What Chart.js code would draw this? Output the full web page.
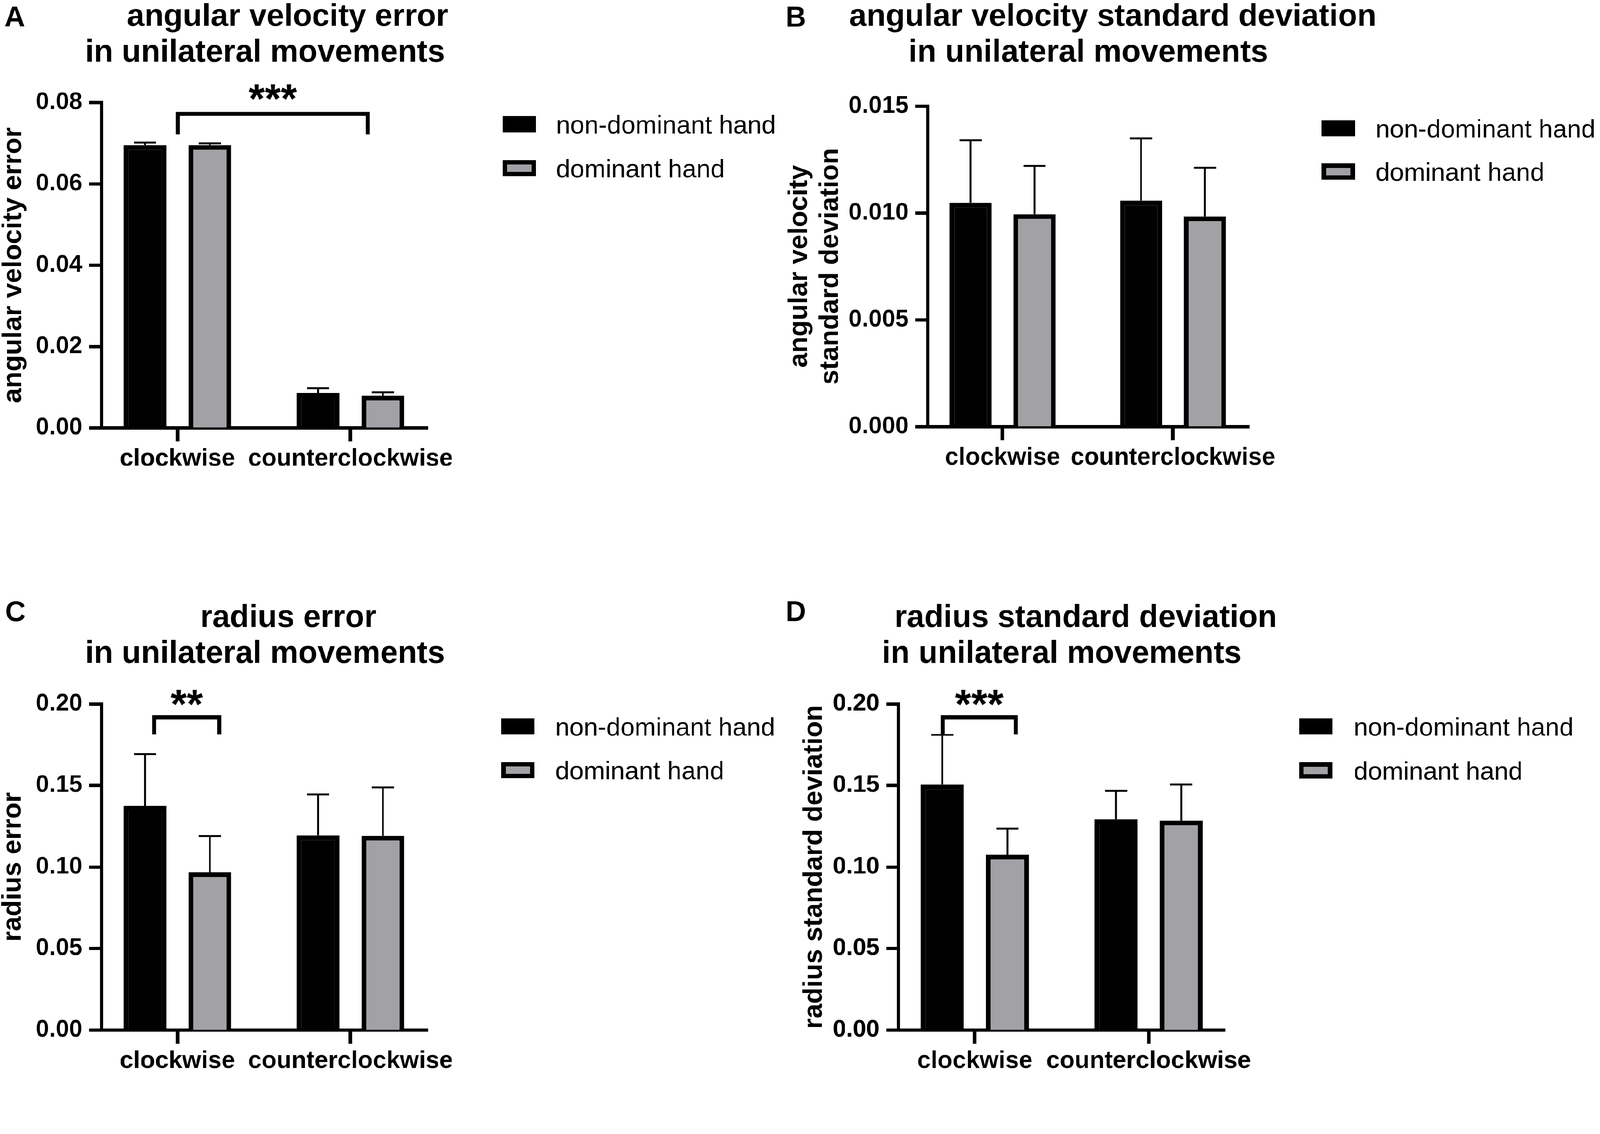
<!DOCTYPE html>
<html>
<head>
<meta charset="utf-8">
<script src="https://cdn.jsdelivr.net/npm/chart.js@4.4.0/dist/chart.umd.min.js"></script>
<style>
  html, body { margin: 0; padding: 0; background: #fff; overflow: hidden; }
  #page { position: absolute; left: 0; top: 0; width: 4328px; height: 2903px; transform-origin: 0 0; }
  canvas { position: absolute; }
</style>
</head>
<body>
<div id="page">
<canvas id="chartA" width="2200" height="1450" style="left:0;top:0"></canvas>
<canvas id="chartB" width="2228" height="1450" style="left:2100px;top:0"></canvas>
<canvas id="chartC" width="2200" height="1453" style="left:0;top:1450px"></canvas>
<canvas id="chartD" width="2228" height="1453" style="left:2100px;top:1450px"></canvas>
</div>
<script>
var categories = ['clockwise', 'counterclockwise'];
var seriesNames = ['non-dominant hand', 'dominant hand'];

// A: angular velocity error
var avErrNonDom = [0.0695, 0.00855];
var avErrNonDomSem = [0.0006, 0.0012];
var avErrDom = [0.0695, 0.0079];
var avErrDomSem = [0.0004, 0.0008];
var avErrTicks = ['0.00', '0.02', '0.04', '0.06', '0.08'];

// B: angular velocity standard deviation
var avSdNonDom = [0.01048, 0.01058];
var avSdNonDomSem = [0.00293, 0.00291];
var avSdDom = [0.00994, 0.00984];
var avSdDomSem = [0.00226, 0.00228];
var avSdTicks = ['0.000', '0.005', '0.010', '0.015'];

// C: radius error
var radErrNonDom = [0.1374, 0.1194];
var radErrNonDomSem = [0.0319, 0.0251];
var radErrDom = [0.0967, 0.1191];
var radErrDomSem = [0.0223, 0.0297];
var radErrTicks = ['0.00', '0.05', '0.10', '0.15', '0.20'];

// D: radius standard deviation
var radSdNonDom = [0.1505, 0.1292];
var radSdNonDomSem = [0.0305, 0.0174];
var radSdDom = [0.1075, 0.1284];
var radSdDomSem = [0.0160, 0.0221];
var radSdTicks = ['0.00', '0.05', '0.10', '0.15', '0.20'];

var FONT = '"Liberation Sans", Arial, Helvetica, sans-serif';
var GREY = '#a2a2a6';

// the layout is in 4328x2903 figure pixels; fit it to the real viewport
var fit = Math.min(window.innerWidth / 4328, window.innerHeight / 2903);
if (Math.abs(fit - 1) > 0.001) {
  document.getElementById('page').style.transform = 'scale(' + fit + ')';
}
var DPR = (window.devicePixelRatio || 1);

Chart.defaults.font.family = FONT;
Chart.defaults.color = '#000';

// whiskers (mean + SEM), upper side only
var errorBars = {
  id: 'errorBars',
  afterDatasetsDraw: function (chart, args, opts) {
    var ctx = chart.ctx;
    var ys = chart.scales.y;
    ctx.save();
    ctx.strokeStyle = '#000';
    ctx.lineWidth = opts.width;
    chart.data.datasets.forEach(function (ds, di) {
      chart.getDatasetMeta(di).data.forEach(function (bar, i) {
        var top = ys.getPixelForValue(ds.data[i].y + ds.sem[i]);
        ctx.beginPath();
        ctx.moveTo(bar.x, bar.y);
        ctx.lineTo(bar.x, top);
        ctx.moveTo(bar.x - opts.cap / 2, top);
        ctx.lineTo(bar.x + opts.cap / 2, top);
        ctx.stroke();
      });
    });
    ctx.restore();
  }
};

// panel letter, two-line title, legend and significance bracket
var decor = {
  id: 'decor',
  afterDraw: function (chart, args, o) {
    var ctx = chart.ctx;
    ctx.save();
    ctx.fillStyle = '#000';
    ctx.textBaseline = 'alphabetic';

    ctx.font = 'bold 77px ' + FONT;
    ctx.textAlign = 'left';
    ctx.fillText(o.letter, o.letterX, o.letterY);

    ctx.font = 'bold 85px ' + FONT;
    ctx.textAlign = 'center';
    o.title.forEach(function (line, i) {
      ctx.fillText(line, o.titleX[i], o.titleY[i]);
    });

    var lg = o.legend;
    ctx.textAlign = 'left';
    ctx.font = '69px ' + FONT;
    chart.data.datasets.forEach(function (ds, i) {
      var y = lg.rows[i];
      ctx.fillStyle = ds.borderColor;
      ctx.fillRect(lg.x, y, lg.w, lg.h);
      ctx.fillStyle = ds.backgroundColor;
      ctx.fillRect(lg.x + lg.border, y + lg.border, lg.w - 2 * lg.border, lg.h - 2 * lg.border);
      ctx.fillStyle = '#000';
      ctx.fillText(ds.label, lg.textX, y + lg.h + 3);
    });

    var b = o.bracket;
    if (b) {
      var xs = chart.scales.x, ys = chart.scales.y;
      var x1 = xs.getPixelForValue(b.from), x2 = xs.getPixelForValue(b.to);
      var yt = ys.getPixelForValue(b.y), yl = ys.getPixelForValue(b.legTo);
      ctx.strokeStyle = '#000';
      ctx.lineWidth = 11;
      ctx.lineJoin = 'miter';
      ctx.beginPath();
      ctx.moveTo(x1, yl);
      ctx.lineTo(x1, yt);
      ctx.lineTo(x2, yt);
      ctx.lineTo(x2, yl);
      ctx.stroke();
      ctx.font = 'bold 112px ' + FONT;
      ctx.textAlign = 'center';
      ctx.textBaseline = 'middle';
      ctx.fillText(b.label, (x1 + x2) / 2, yt - b.gap);
    }
    ctx.restore();
  }
};

function makePanel(id, p) {
  var canvas = document.getElementById(id);
  var W = canvas.width, H = canvas.height;
  var barStyle = { borderColor: '#000', borderWidth: 13, categoryPercentage: 0.75, barPercentage: 0.66 };
  return new Chart(canvas, {
    type: 'bar',
    data: {
      datasets: [
        Object.assign({
          label: seriesNames[0],
          data: p.nonDom.map(function (v, i) { return { x: i, y: v }; }),
          sem: p.nonDomSem,
          backgroundColor: '#000'
        }, barStyle),
        Object.assign({
          label: seriesNames[1],
          data: p.dom.map(function (v, i) { return { x: i, y: v }; }),
          sem: p.domSem,
          backgroundColor: GREY
        }, barStyle)
      ]
    },
    options: {
      responsive: false,
      animation: false,
      devicePixelRatio: DPR,
      layout: { padding: { left: 0, top: p.area.top, right: W - p.area.right, bottom: 0 } },
      plugins: {
        legend: { display: false },
        tooltip: { enabled: false },
        errorBars: { width: 5, cap: 60 },
        decor: p.decor
      },
      scales: {
        x: {
          type: 'linear',
          min: p.xMin,
          max: p.xMax,
          offset: false,
          afterBuildTicks: function (axis) {
            axis.ticks = categories.map(function (c, i) { return { value: i }; });
          },
          afterFit: function (s) {
            s.height = H - p.area.bottom;
            s.paddingLeft = 0;
            s.paddingRight = 0;
          },
          grid: { offset: false, drawOnChartArea: false, drawTicks: true, tickLength: 37, tickWidth: 10, tickColor: '#000' },
          border: { display: true, width: 9, color: '#000' },
          ticks: {
            autoSkip: false, maxRotation: 0, minRotation: 0, padding: 15, color: '#000',
            font: { size: 66, weight: 'bold', lineHeight: 1 },
            callback: function (v) { return categories[v]; }
          }
        },
        y: {
          min: 0,
          max: parseFloat(p.ticks[p.ticks.length - 1]),
          afterBuildTicks: function (axis) {
            axis.ticks = p.ticks.map(function (t) { return { value: parseFloat(t) }; });
          },
          afterFit: function (s) {
            s.width = p.area.left;
            s.paddingTop = 0;
            s.paddingBottom = 0;
          },
          grid: { drawOnChartArea: false, drawTicks: true, tickLength: 33, tickWidth: 9, tickColor: '#000' },
          border: { display: true, width: 9, color: '#000' },
          ticks: {
            padding: 18, color: '#000',
            font: { size: 65, weight: 'bold', lineHeight: 1 },
            callback: function (v, i) { return p.ticks[i]; }
          },
          title: {
            display: true, text: p.yTitle, color: '#000',
            font: { size: p.yTitleSize, weight: 'bold', lineHeight: p.yTitleLh },
            padding: { top: p.yTitlePad, bottom: 0 }
          }
        }
      }
    },
    plugins: [errorBars, decor]
  });
}

makePanel('chartA', {
  nonDom: avErrNonDom, nonDomSem: avErrNonDomSem, dom: avErrDom, domSem: avErrDomSem,
  ticks: avErrTicks,
  yTitle: 'angular velocity error', yTitleSize: 73, yTitleLh: 1, yTitlePad: 0,
  area: { left: 274, right: 1157, top: 277, bottom: 1157 },
  xMin: -0.4402, xMax: 1.4466,
  decor: {
    letter: 'A', letterX: 12, letterY: 72,
    title: ['angular velocity error', 'in unilateral movements'], titleX: [778, 717], titleY: [70, 167],
    legend: { x: 1360, w: 90, h: 44, border: 12, rows: [314, 433], textX: 1504 },
    bracket: { from: 0.002, to: 1.1004, y: 0.07718, legTo: 0.07209, label: '***', gap: 34 }
  }
});

makePanel('chartB', {
  nonDom: avSdNonDom, nonDomSem: avSdNonDomSem, dom: avSdDom, domSem: avSdDomSem,
  ticks: avSdTicks,
  yTitle: ['angular velocity', 'standard deviation'], yTitleSize: 72, yTitleLh: 1.17, yTitlePad: 21,
  area: { left: 409, right: 1279, top: 287, bottom: 1154 },
  xMin: -0.4403, xMax: 1.4469,
  decor: {
    letter: 'B', letterX: 25, letterY: 72,
    title: ['angular velocity standard deviation', 'in unilateral movements'], titleX: [910, 844], titleY: [70, 167],
    legend: { x: 1475, w: 90, h: 44, border: 12, rows: [325, 442], textX: 1621 },
    bracket: null
  }
});

makePanel('chartC', {
  nonDom: radErrNonDom, nonDomSem: radErrNonDomSem, dom: radErrDom, domSem: radErrDomSem,
  ticks: radErrTicks,
  yTitle: 'radius error', yTitleSize: 72, yTitleLh: 1, yTitlePad: 0,
  area: { left: 274, right: 1157, top: 454, bottom: 1336 },
  xMin: -0.4402, xMax: 1.4466,
  decor: {
    letter: 'C', letterX: 14, letterY: 230,
    title: ['radius error', 'in unilateral movements'], titleX: [780, 717], titleY: [246, 343],
    legend: { x: 1356, w: 90, h: 44, border: 12, rows: [493, 611], textX: 1502 },
    bracket: { from: -0.1346, to: 0.2415, y: 0.1918, legTo: 0.1814, label: '**', gap: 28 }
  }
});

makePanel('chartD', {
  nonDom: radSdNonDom, nonDomSem: radSdNonDomSem, dom: radSdDom, domSem: radSdDomSem,
  ticks: radSdTicks,
  yTitle: 'radius standard deviation', yTitleSize: 72, yTitleLh: 1, yTitlePad: 67,
  area: { left: 330, right: 1214, top: 454, bottom: 1336 },
  xMin: -0.4404, xMax: 1.4404,
  decor: {
    letter: 'D', letterX: 25, letterY: 230,
    title: ['radius standard deviation', 'in unilateral movements'], titleX: [837, 772], titleY: [246, 343],
    legend: { x: 1414, w: 90, h: 44, border: 12, rows: [493, 612], textX: 1562 },
    bracket: { from: -0.1851, to: 0.2362, y: 0.1918, legTo: 0.1812, label: '***', gap: 28 }
  }
});
</script>
</body>
</html>
